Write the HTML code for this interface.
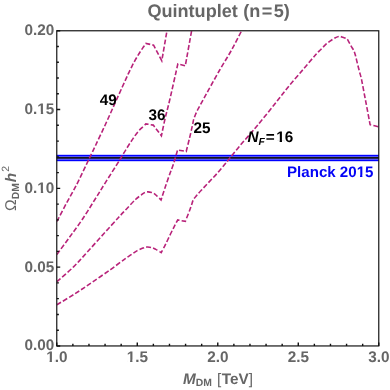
<!DOCTYPE html>
<html>
<head>
<meta charset="utf-8">
<title>Quintuplet (n=5)</title>
<style>
html,body{margin:0;padding:0;background:#fff;}
body{width:390px;height:390px;overflow:hidden;font-family:"Liberation Sans",sans-serif;}
svg{display:block;will-change:transform;}
text{font-family:"Liberation Sans",sans-serif;text-rendering:geometricPrecision;}
.tk{font-size:15.3px;font-weight:bold;fill:#666;}
.lb{font-size:15.3px;font-weight:bold;fill:#000;}
.cv{fill:none;stroke:#b8237a;stroke-width:1.6;stroke-dasharray:4.9 2.2;stroke-linejoin:miter;stroke-linecap:butt;}
</style>
</head>
<body>
<svg width="390" height="390" viewBox="0 0 390 390">
<rect x="0" y="0" width="390" height="390" fill="#fff"/>
<defs><clipPath id="cp"><rect x="56.77" y="30.77" width="322.0" height="315.18"/></clipPath></defs>

<!-- title -->
<text x="147.4" y="17.1" font-size="18.1" font-weight="bold" fill="#666">Quintuplet<tspan dx="0.4"> (n</tspan><tspan dx="1.4">=</tspan><tspan dx="1.4">5)</tspan></text>

<!-- Planck band -->
<rect x="56.77" y="155.4" width="322.0" height="5.2" fill="#5252ff"/>
<rect x="56.77" y="154.8" width="322.0" height="1.2" fill="#0000ff"/>
<rect x="56.77" y="160.0" width="322.0" height="1.2" fill="#0000ff"/>
<rect x="56.77" y="157.0" width="322.0" height="1.7" fill="#161616"/>

<!-- curves -->
<g clip-path="url(#cp)">
<path class="cv" d="M56.90,221.50 C58.47,218.50 63.04,209.58 66.30,203.50 C69.56,197.42 72.58,192.58 76.45,185.00 C80.32,177.42 86.28,164.67 89.50,158.00 C92.72,151.33 93.10,150.58 95.75,145.00 C98.40,139.42 102.31,131.22 105.40,124.50 C108.49,117.78 111.45,111.03 114.30,104.70 C117.15,98.37 120.20,91.58 122.50,86.50 C124.80,81.42 126.65,77.32 128.10,74.20 C129.55,71.08 130.18,69.85 131.20,67.80 C132.22,65.75 133.18,63.78 134.20,61.90 C135.22,60.02 136.27,58.23 137.30,56.50 C138.33,54.77 139.42,53.03 140.40,51.50 C141.38,49.97 142.28,48.65 143.20,47.30 C144.12,45.95 145.45,44.05 145.90,43.40 L153.60,45.20 L161.80,60.80 C162.65,55.85 165.87,37.12 166.90,31.10 C167.93,25.08 167.82,25.77 168.00,24.70"/>
<path class="cv" d="M56.90,254.50 C58.98,251.65 65.23,243.15 69.40,237.40 C73.57,231.65 77.70,226.23 81.90,220.00 C86.10,213.77 90.68,206.23 94.60,200.00 C98.52,193.77 101.22,189.27 105.40,182.60 C109.58,175.93 116.30,165.47 119.70,160.00 C123.10,154.53 123.75,153.12 125.80,149.80 C127.85,146.48 129.95,143.13 132.00,140.10 C134.05,137.07 136.23,133.85 138.10,131.60 C139.97,129.35 141.92,127.89 143.20,126.60 C144.48,125.31 145.37,124.31 145.80,123.85 L153.30,125.10 L161.40,135.80 C162.02,132.92 163.72,124.47 165.10,118.50 C166.48,112.53 167.57,109.10 169.70,100.00 C171.82,90.90 176.49,69.92 177.85,63.90 L185.30,65.80 C186.35,59.97 190.37,37.65 191.60,30.80 C192.83,23.95 192.52,25.72 192.70,24.70"/>
<path class="cv" d="M56.90,281.70 C59.67,279.23 68.40,271.88 73.50,266.90 C78.60,261.92 82.50,257.28 87.50,251.80 C92.50,246.32 98.33,239.72 103.50,234.00 C108.67,228.28 114.70,221.63 118.50,217.50 C122.30,213.37 123.47,212.20 126.30,209.20 C129.13,206.20 132.98,201.88 135.50,199.50 C138.02,197.12 139.97,196.00 141.40,194.90 C142.83,193.80 143.08,193.41 144.10,192.90 C145.12,192.39 146.25,191.93 147.50,191.85 C148.75,191.77 150.43,192.07 151.60,192.40 C152.77,192.73 153.63,193.22 154.50,193.80 C155.37,194.38 155.71,194.88 156.80,195.90 C157.89,196.93 160.34,199.27 161.05,199.95 C161.73,197.89 163.66,191.89 165.10,187.60 C166.54,183.31 168.35,178.00 169.70,174.20 C171.05,170.40 171.88,168.85 173.20,164.80 C174.52,160.75 176.87,152.38 177.60,149.90 L186.20,151.50 C186.75,149.30 188.58,142.10 189.50,138.30 C190.42,134.50 191.17,131.05 191.70,128.70 C192.23,126.35 192.37,125.75 192.70,124.20 C193.03,122.65 193.22,121.05 193.70,119.40 C194.18,117.75 194.92,115.95 195.60,114.30 C196.28,112.65 197.05,110.98 197.80,109.50 C198.55,108.02 199.07,107.28 200.10,105.40 C201.13,103.52 202.57,100.82 204.00,98.20 C205.43,95.58 206.03,94.48 208.70,89.70 C211.37,84.92 216.23,76.03 220.00,69.50 C223.77,62.97 227.70,56.95 231.30,50.50 C234.90,44.05 239.35,35.10 241.60,30.80 C243.85,26.50 244.27,25.72 244.80,24.70"/>
<path class="cv" d="M56.90,304.80 C60.00,302.90 69.57,297.20 75.50,293.40 C81.43,289.60 86.67,285.97 92.50,282.00 C98.33,278.03 105.08,273.47 110.50,269.60 C115.92,265.73 121.55,261.28 125.00,258.80 C128.45,256.32 129.15,256.07 131.20,254.70 C133.25,253.33 135.35,251.70 137.30,250.60 C139.25,249.50 141.27,248.69 142.90,248.10 C144.53,247.51 145.63,247.13 147.10,247.05 C148.57,246.97 150.25,247.21 151.70,247.60 C153.15,247.99 154.22,248.57 155.80,249.40 C157.38,250.23 160.30,252.03 161.20,252.55 C161.90,251.24 163.85,247.79 165.40,244.70 C166.95,241.61 168.97,237.15 170.50,234.00 C172.03,230.85 173.39,228.13 174.60,225.80 C175.81,223.47 177.22,220.97 177.75,220.00 L185.35,221.35 C186.06,219.54 188.54,213.31 189.60,210.50 C190.66,207.69 191.08,206.28 191.70,204.50 C192.32,202.72 192.45,201.33 193.30,199.80 C194.15,198.27 195.28,197.08 196.80,195.30 C198.32,193.52 200.27,191.42 202.40,189.10 C204.53,186.78 207.20,183.97 209.60,181.40 C212.00,178.83 214.43,176.35 216.80,173.70 C219.17,171.05 221.59,168.15 223.80,165.50 C226.01,162.85 227.27,161.22 230.05,157.80 C232.83,154.38 237.04,149.10 240.50,145.00 C243.96,140.90 247.92,136.53 250.80,133.20 C253.68,129.87 254.00,129.62 257.80,125.00 C261.60,120.38 268.57,111.80 273.60,105.50 C278.63,99.20 283.02,93.28 288.00,87.20 C292.98,81.12 299.00,74.28 303.50,69.00 C308.00,63.72 312.25,58.62 315.00,55.50 C317.75,52.38 318.28,52.07 320.00,50.30 C321.72,48.53 323.57,46.48 325.30,44.90 C327.03,43.32 328.70,42.00 330.40,40.80 C332.10,39.60 334.05,38.43 335.50,37.70 C336.95,36.97 337.90,36.48 339.10,36.40 C340.30,36.32 341.42,36.80 342.70,37.20 C343.98,37.60 345.78,38.02 346.80,38.80 C347.82,39.57 348.05,40.59 348.80,41.85 C349.55,43.11 350.47,44.89 351.30,46.35 C352.13,47.81 353.12,49.11 353.80,50.60 C354.48,52.09 354.80,53.15 355.40,55.30 C356.00,57.45 356.72,60.77 357.40,63.50 C358.08,66.23 358.82,69.05 359.50,71.70 C360.18,74.35 360.67,75.52 361.50,79.40 C362.33,83.28 363.57,90.18 364.50,95.00 C365.43,99.82 366.12,103.35 367.05,108.30 C367.98,113.25 369.59,121.97 370.10,124.70 C371.55,125.07 376.98,126.45 378.80,126.90 C380.62,127.35 380.63,127.32 381.00,127.40"/>
</g>

<!-- frame and ticks -->
<rect x="56.77" y="30.77" width="322.0" height="315.18" fill="none" stroke="#111" stroke-width="1.18"/>
<path d="M56.77,345.95 v-3.45 M72.87,345.95 v-2.10 M88.97,345.95 v-2.10 M105.07,345.95 v-2.10 M121.17,345.95 v-2.10 M137.27,345.95 v-3.45 M153.37,345.95 v-2.10 M169.47,345.95 v-2.10 M185.57,345.95 v-2.10 M201.67,345.95 v-2.10 M217.77,345.95 v-3.45 M233.87,345.95 v-2.10 M249.97,345.95 v-2.10 M266.07,345.95 v-2.10 M282.17,345.95 v-2.10 M298.27,345.95 v-3.45 M314.37,345.95 v-2.10 M330.47,345.95 v-2.10 M346.57,345.95 v-2.10 M362.67,345.95 v-2.10 M378.77,345.95 v-3.45 M56.77,345.95 h3.45 M56.77,330.19 h2.10 M56.77,314.43 h2.10 M56.77,298.67 h2.10 M56.77,282.91 h2.10 M56.77,267.15 h3.45 M56.77,251.40 h2.10 M56.77,235.64 h2.10 M56.77,219.88 h2.10 M56.77,204.12 h2.10 M56.77,188.36 h3.45 M56.77,172.60 h2.10 M56.77,156.84 h2.10 M56.77,141.08 h2.10 M56.77,125.32 h2.10 M56.77,109.56 h3.45 M56.77,93.81 h2.10 M56.77,78.05 h2.10 M56.77,62.29 h2.10 M56.77,46.53 h2.10 M56.77,30.77 h3.45" fill="none" stroke="#111" stroke-width="1.4"/>

<!-- tick labels -->
<g class="tk" text-anchor="end">
<text x="54.4" y="350.35">0.00</text>
<text x="54.4" y="271.55">0.05</text>
<text x="54.4" y="192.76">0.10</text>
<text x="54.4" y="113.97">0.15</text>
<text x="54.4" y="35.17">0.20</text>
</g>
<g class="tk" text-anchor="middle">
<text x="56.77" y="361.90">1.0</text>
<text x="137.27" y="361.90">1.5</text>
<text x="217.77" y="361.90">2.0</text>
<text x="298.27" y="361.90">2.5</text>
<text x="378.77" y="361.90">3.0</text>
</g>

<!-- curve labels -->
<text class="lb" x="99.8" y="104.8">49</text>
<text class="lb" x="148.4" y="120.3">36</text>
<text class="lb" x="193.4" y="132.8">25</text>
<text class="lb" x="247.4" y="142.3"><tspan font-style="italic">N</tspan><tspan font-style="italic" font-size="10.3" dy="2.3">F</tspan><tspan dy="-2.3" dx="0.9">=</tspan><tspan dx="1.6">16</tspan></text>
<text x="287.0" y="177.0" font-size="15.1" font-weight="bold" fill="#0404f6">Planck 2015</text>

<!-- hide foot of digit one -->
<rect x="37.83" y="190.60" width="2.99" height="2.66" fill="#fff"/><rect x="43.16" y="190.60" width="2.81" height="2.66" fill="#fff"/>
<rect x="37.83" y="111.81" width="2.99" height="2.66" fill="#fff"/><rect x="43.16" y="111.81" width="2.81" height="2.66" fill="#fff"/>
<rect x="46.60" y="359.74" width="2.99" height="2.66" fill="#fff"/><rect x="51.93" y="359.74" width="2.81" height="2.66" fill="#fff"/>
<rect x="127.10" y="359.74" width="2.99" height="2.66" fill="#fff"/><rect x="132.43" y="359.74" width="2.81" height="2.66" fill="#fff"/>
<rect x="276.66" y="140.14" width="2.99" height="2.66" fill="#fff"/><rect x="281.99" y="140.14" width="2.81" height="2.66" fill="#fff"/>
<rect x="357.09" y="174.86" width="2.95" height="2.64" fill="#fff"/><rect x="362.36" y="174.86" width="2.78" height="2.64" fill="#fff"/>

<!-- axis labels -->
<text x="183.0" y="383.7" class="tk"><tspan font-style="italic">M</tspan><tspan font-size="10.4" dy="2.2">DM</tspan><tspan dy="-2.2" dx="5.0" font-weight="normal">[</tspan><tspan dx="0.5">TeV</tspan><tspan font-weight="normal" dx="0.2">]</tspan></text>
<g transform="translate(15.5,211) rotate(-90)">
<text x="0" y="0" class="tk"><tspan font-weight="normal" font-family="Liberation Sans" font-size="15.6">Ω</tspan><tspan font-size="10.4" dy="3.0" dx="0.1">DM</tspan><tspan dy="-3.0" dx="0.9" font-style="italic">h</tspan><tspan font-size="10.5" font-weight="normal" dy="-6.9" dx="1.0">2</tspan></text>
</g>
</svg>
</body>
</html>
